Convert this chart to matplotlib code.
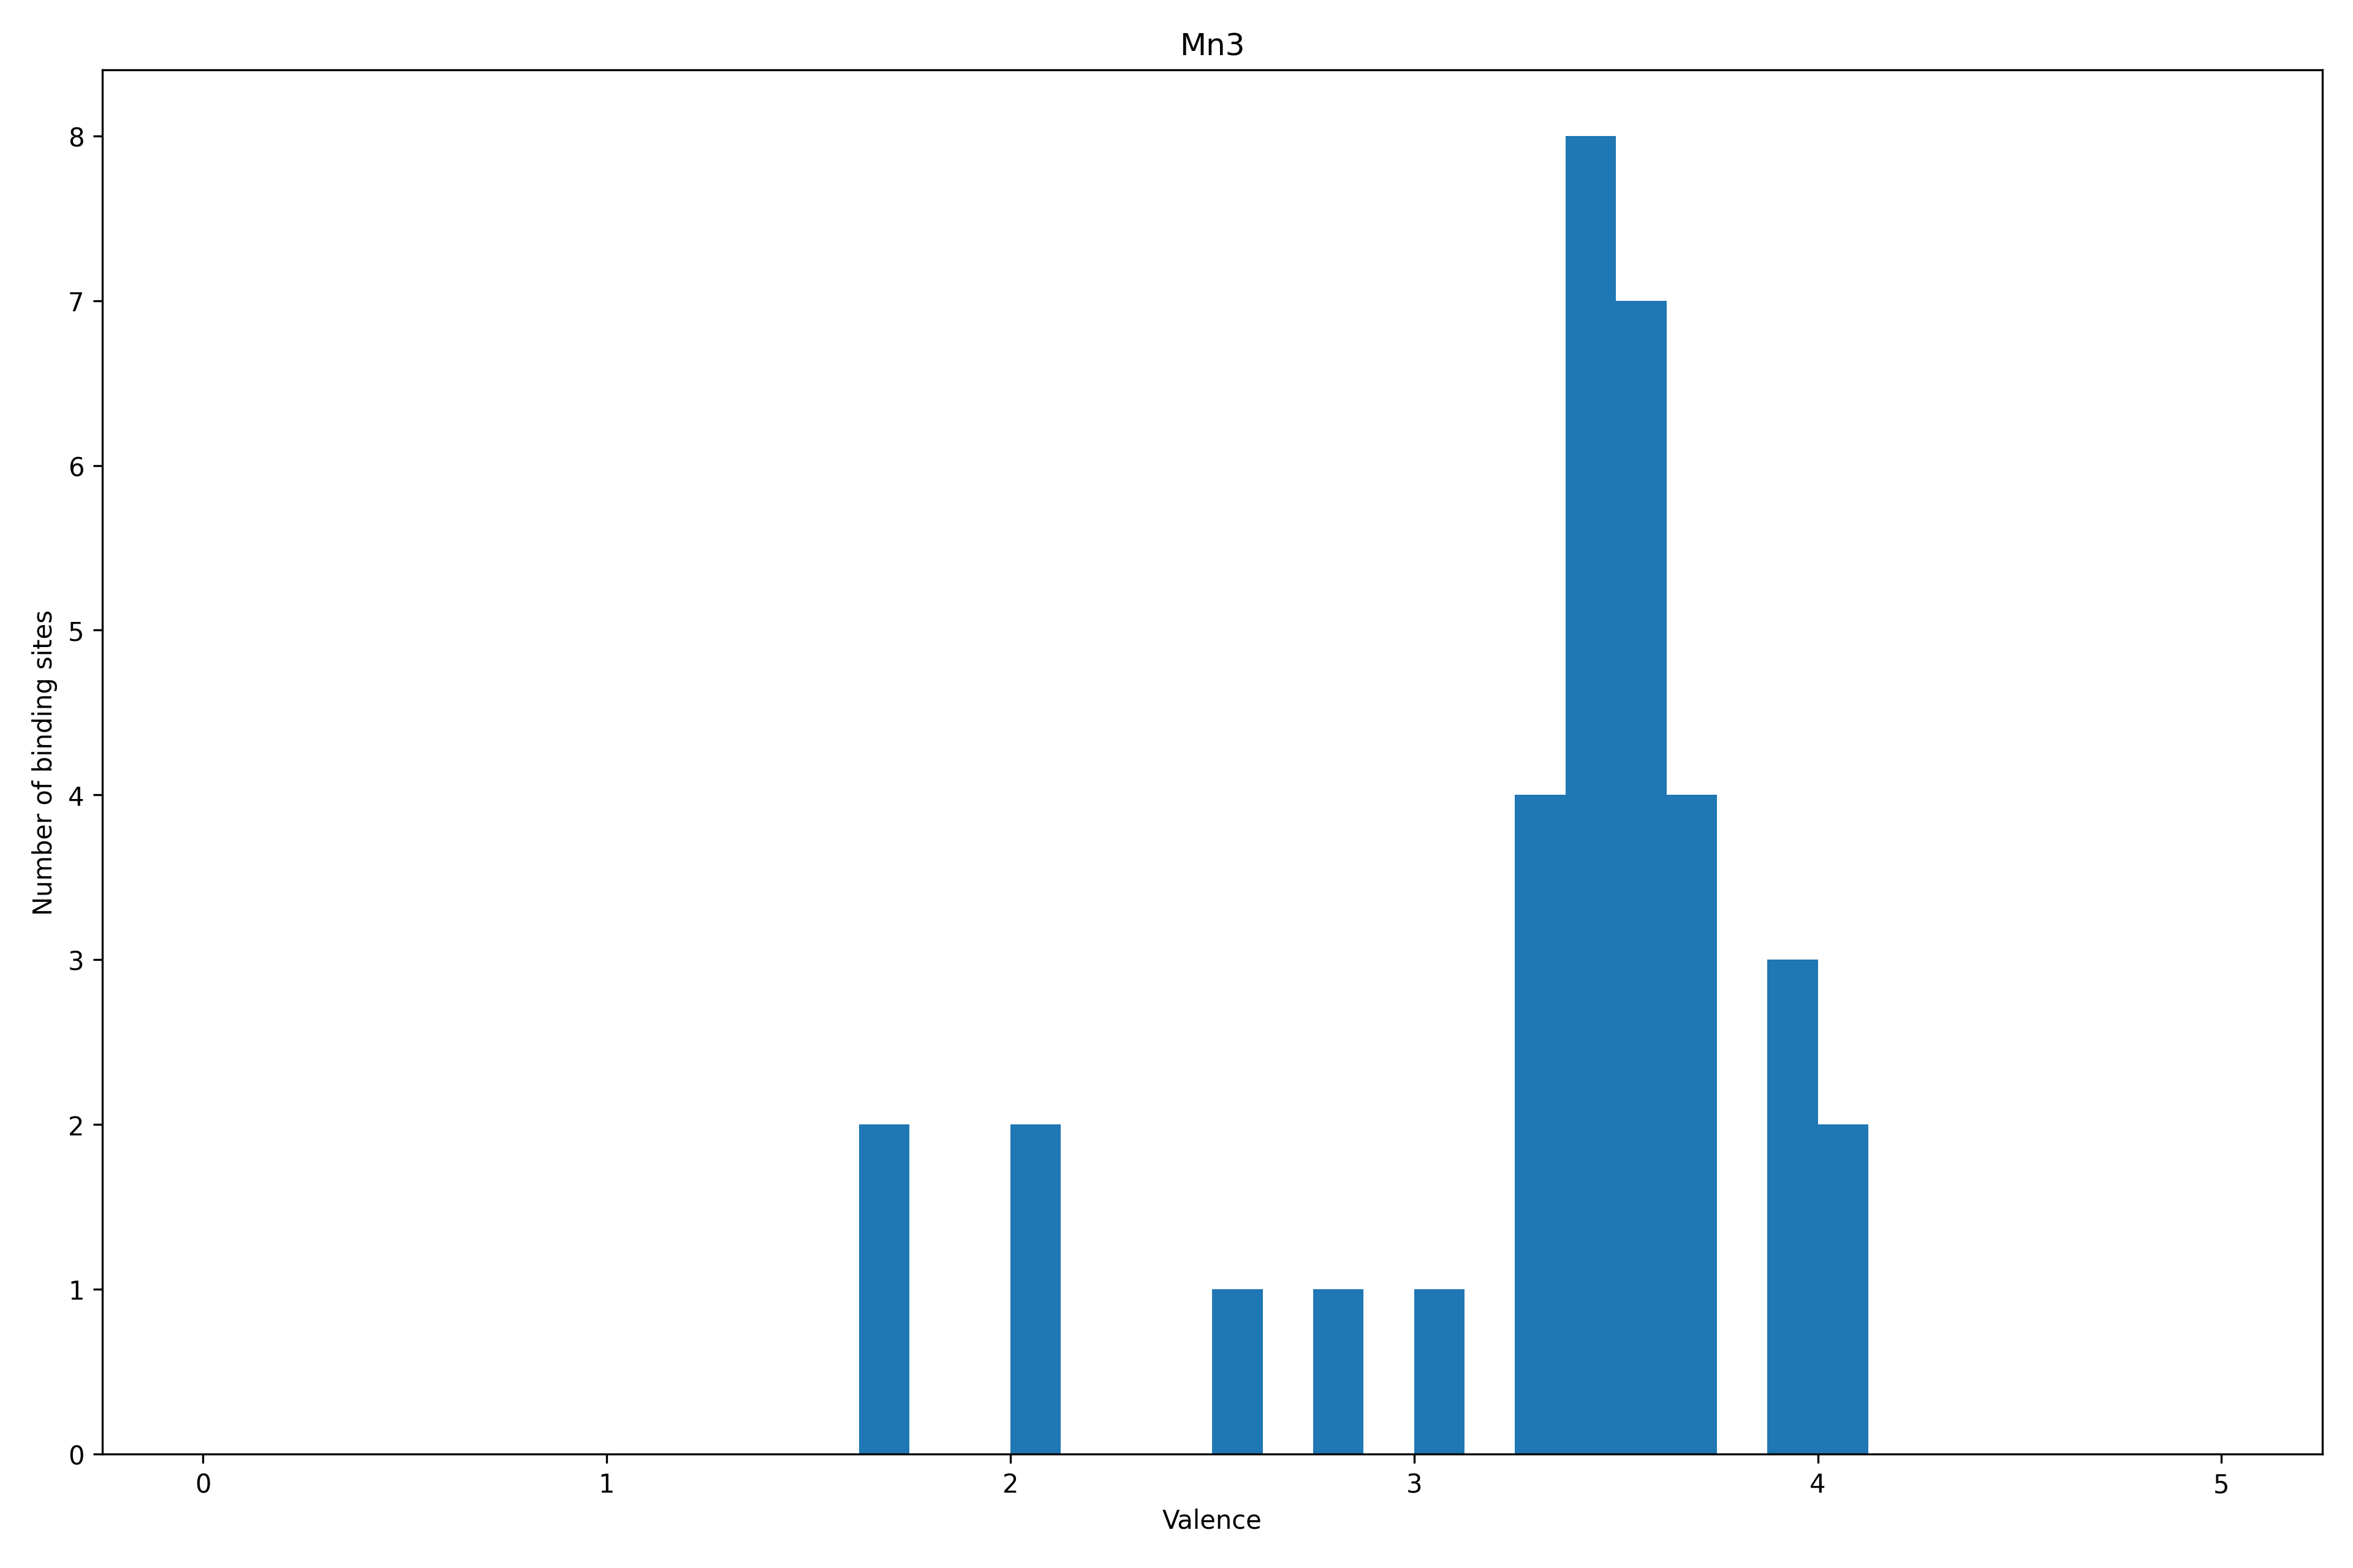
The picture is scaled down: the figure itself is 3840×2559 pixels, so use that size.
import numpy as np
import matplotlib
matplotlib.use("Agg")
import matplotlib.pyplot as plt

# Histogram of valences, 40 bins over [0, 5]
bin_edges = np.linspace(0, 5, 41)
counts = [0] * 40
# non-empty bins: (left edge, count)
filled = [(1.625, 2), (2.0, 2), (2.5, 1), (2.75, 1), (3.0, 1),
          (3.25, 4), (3.375, 8), (3.5, 7), (3.625, 4),
          (3.875, 3), (4.0, 2)]
for left, n in filled:
    counts[int(round(left / 0.125))] = n

centers = (bin_edges[:-1] + bin_edges[1:]) / 2

fig, ax = plt.subplots(figsize=(12.8, 8.5333), dpi=300)
ax.hist(centers, bins=bin_edges, weights=counts)
ax.set_title("Mn3")
ax.set_xlabel("Valence")
ax.set_ylabel("Number of binding sites")
fig.subplots_adjust(left=0.0434, right=0.987, top=0.955, bottom=0.0727)
fig.savefig("out.png", dpi=300)
